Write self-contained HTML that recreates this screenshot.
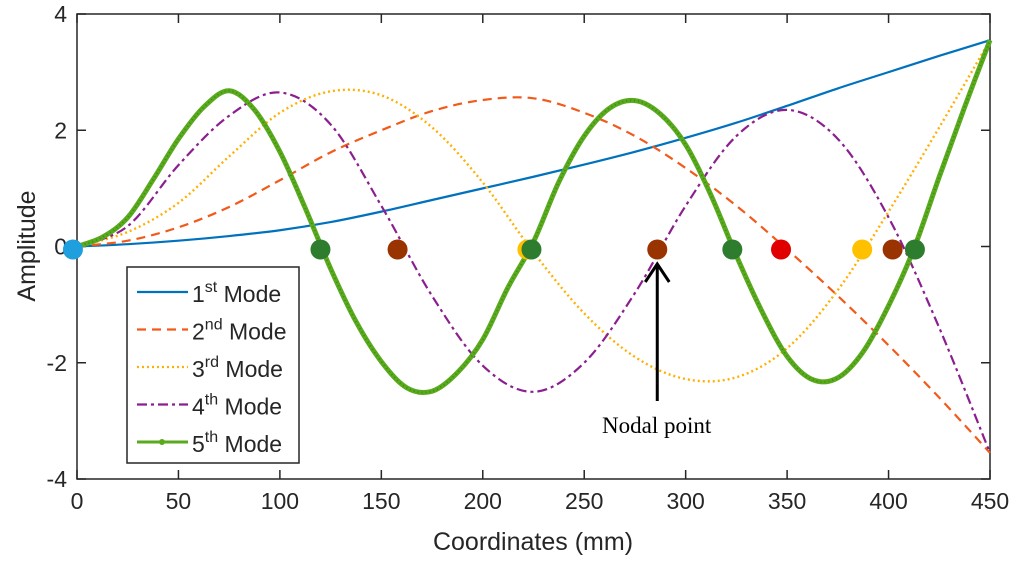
<!DOCTYPE html>
<html><head><meta charset="utf-8"><style>
body{margin:0;background:#fff;}
svg{display:block;font-family:"Liberation Sans",sans-serif;}
</style></head><body>
<svg id="chart" width="1024" height="564" viewBox="0 0 1024 564">
<g id="plot"></g>
</svg>
<script>
const xTicks=[0,50,100,150,200,250,300,350,400,450];
const yTicks=[-4,-2,0,2,4];
const xs25=[0,25,50,75,100,125,150,175,200,225,250,275,300,325,350,375,400,425,450];
const mode1=[0,0.04,0.1,0.18,0.28,0.42,0.6,0.8,1.0,1.2,1.41,1.63,1.87,2.13,2.42,2.72,3.0,3.28,3.55];
const mode2=[0,0.1,0.33,0.68,1.14,1.62,2.0,2.33,2.52,2.55,2.3,1.9,1.35,0.7,-0.05,-0.85,-1.7,-2.6,-3.55];
const mode3=[0,0.25,0.75,1.55,2.3,2.67,2.6,2.05,1.1,-0.1,-1.15,-1.9,-2.28,-2.25,-1.75,-0.75,0.6,2.05,3.55];
const mode4=[0,0.35,1.4,2.25,2.65,2.1,0.7,-0.85,-2.05,-2.5,-2.0,-0.8,0.7,1.9,2.35,1.85,0.5,-1.4,-3.55];
const xs12=[0,12.5,25,37.5,50,62.5,75,87.5,100,112.5,125,137.5,150,162.5,175,187.5,200,212.5,225,237.5,250,262.5,275,287.5,300,312.5,325,337.5,350,362.5,375,387.5,400,412.5,425,437.5,450];
const mode5=[0,0.16,0.5,1.15,1.85,2.4,2.68,2.35,1.63,0.66,-0.38,-1.29,-1.98,-2.43,-2.49,-2.17,-1.6,-0.7,0.08,1.11,1.9,2.38,2.51,2.28,1.75,0.88,-0.16,-1.11,-1.89,-2.29,-2.26,-1.81,-1.02,-0.04,1.2,2.4,3.55];
const nodeX=[-2,120,158,222,224,286,323,347,387,402,413];
const nodeColor=["#1f9fde","#2e7d2e","#993300","#ffc000","#2e7d2e","#993300","#2e7d2e","#e00000","#ffc000","#993300","#2e7d2e"];
const legendLabels=[["1","st"],["2","nd"],["3","rd"],["4","th"],["5","th"]];

const L=77,R=990,T=14,B=479;
const X=v=>L+(v/450)*(R-L);
const Y=v=>T+(4-v)/8*(B-T);
const NS="http://www.w3.org/2000/svg";
const svg=document.getElementById('chart');
function mk(tag,attrs,parent){const e=document.createElementNS(NS,tag);for(const k in attrs)e.setAttribute(k,attrs[k]);(parent||svg).appendChild(e);return e;}
function pathD(xs,ys){const p=xs.map((x,i)=>[X(x),Y(ys[i])]);let d=`M${p[0][0]},${p[0][1]}`;
 for(let i=0;i<p.length-1;i++){const p0=p[i-1]||p[i],p1=p[i],p2=p[i+1],p3=p[i+2]||p[i+1];
  d+=` C${p1[0]+(p2[0]-p0[0])/6},${p1[1]+(p2[1]-p0[1])/6} ${p2[0]-(p3[0]-p1[0])/6},${p2[1]-(p3[1]-p1[1])/6} ${p2[0]},${p2[1]}`;}
 return d;}
const box=mk('rect',{x:L,y:T,width:R-L,height:B-T,fill:'none',stroke:'#262626','stroke-width':1.5});


xTicks.forEach(t=>{
 const tk=mk('path',{d:`M${X(t)},${B}V${B-9}M${X(t)},${T}V${T+9}`,stroke:'#262626','stroke-width':1.5});
 
 
 const tx=mk('text',{x:X(t),y:B+30,'font-size':23,'text-anchor':'middle',fill:'#262626'});tx.textContent=t;
 
 
});
yTicks.forEach(t=>{
 const tk=mk('path',{d:`M${L},${Y(t)}H${L+9}M${R},${Y(t)}H${R-9}`,stroke:'#262626','stroke-width':1.5});
 
 
 const tx=mk('text',{x:L-10,y:Y(t)+8,'font-size':23,'text-anchor':'end',fill:'#262626'});tx.textContent=t;
 
 
});
const xl=mk('text',{x:533,y:550,'font-size':25,'text-anchor':'middle',fill:'#262626'});xl.textContent='Coordinates (mm)';


const yl=mk('text',{x:0,y:0,'font-size':25,'text-anchor':'middle',fill:'#262626',transform:'translate(35,246) rotate(-90)'});yl.textContent='Amplitude';



const styles=[
 {c:'#0072bd',w:2.2,da:''},
 {c:'#f25a1a',w:2.2,da:'9,6'},
 {c:'#ffb000',w:2.4,da:'2,3'},
 {c:'#8b1f8f',w:2.2,da:'10,4,3,4'},
 {c:'#5aaa1e',w:5,da:''}];
const series=[[xs25,mode1],[xs25,mode2],[xs25,mode3],[xs25,mode4],[xs12,mode5]];
series.forEach((s,i)=>{
 const p=mk('path',{d:pathD(s[0],s[1]),fill:'none',stroke:styles[i].c,'stroke-width':styles[i].w,'stroke-dasharray':styles[i].da,'stroke-linejoin':'round'});
 
 
});
const dots=mk('path',{d:pathD(xs12,mode5),fill:'none',stroke:'#3c8c14','stroke-width':2,'stroke-dasharray':'1,3'});



nodeX.forEach((x,i)=>{
 const c=mk('circle',{cx:X(x),cy:Y(0)+3,r:10,fill:nodeColor[i]});
 
 
});
const ar=mk('path',{d:`M${X(286)},401V264M${X(286)-12},282L${X(286)},264L${X(286)+12},282`,fill:'none',stroke:'#000','stroke-width':3});


const an=mk('text',{x:602,y:433,'font-size':23,fill:'#000','font-family':'"Liberation Serif",serif'});an.textContent='Nodal point';



const lg=mk('g',{});


mk('rect',{x:127,y:267,width:172,height:196,fill:'#fff',stroke:'#262626','stroke-width':1.5},lg);
legendLabels.forEach((lab,i)=>{
 const y=292+i*37.5;
 const ln=mk('path',{d:`M137,${y}H188`,stroke:styles[i].c,'stroke-width':i==4?3:2.2,'stroke-dasharray':styles[i].da},lg);
 
 
 if(i==4) mk('circle',{cx:162,cy:y,r:3,fill:styles[4].c},lg);
 const t=mk('text',{x:192,y:y+10,'font-size':23,fill:'#262626'},lg);
 
 
 t.innerHTML=`${lab[0]}<tspan dy="-10" font-size="16">${lab[1]}</tspan><tspan dy="10"> Mode</tspan>`;
});
</script>
</body></html>
